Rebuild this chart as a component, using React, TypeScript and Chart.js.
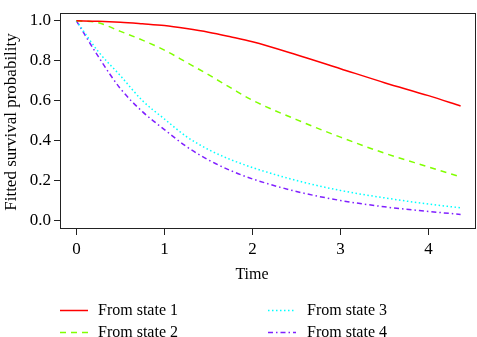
import React, { useEffect, useRef } from "react";
import { Chart, registerables } from "chart.js";

Chart.register(...registerables);

// Fitted survival probability over time, by starting state
const times = [0, 0.25, 0.5, 0.75, 1, 1.25, 1.5, 1.75, 2, 2.5, 3, 3.5, 4, 4.365];
const fromState1 = [1, 0.998, 0.993, 0.985, 0.976, 0.961, 0.943, 0.92, 0.895, 0.83, 0.76, 0.69, 0.625, 0.573];
const fromState2 = [1, 0.99, 0.947, 0.903, 0.853, 0.792, 0.73, 0.665, 0.602, 0.505, 0.417, 0.337, 0.268, 0.218];
const fromState3 = [1, 0.845, 0.725, 0.6, 0.508, 0.42, 0.355, 0.305, 0.265, 0.2, 0.15, 0.113, 0.082, 0.063];
const fromState4 = [1, 0.82, 0.66, 0.545, 0.455, 0.37, 0.303, 0.25, 0.208, 0.145, 0.1, 0.068, 0.045, 0.03];

const seriesLabels = ["From state 1", "From state 2", "From state 3", "From state 4"];
const xTicks = [0, 1, 2, 3, 4];
const yTicks = [0, 0.2, 0.4, 0.6, 0.8, 1.0];

const FONT = "'Liberation Serif', 'Times New Roman', serif";

const styles = [
  { color: "#FF0000", dash: [] as number[] },
  { color: "#80FF00", dash: [6, 5] },
  { color: "#00FFFF", dash: [1.5, 2.5] },
  { color: "#8020FF", dash: [5, 3, 1.5, 3] },
];

const toPoints = (ys: number[]) => times.map((t, i) => ({ x: t, y: ys[i] }));

const framePlugin = {
  id: "frameAndText",
  afterDraw(chart: any) {
    const { ctx, chartArea } = chart;
    const { left, top, right, bottom } = chartArea;
    ctx.save();
    // plot box
    ctx.strokeStyle = "#222";
    ctx.lineWidth = 1;
    ctx.setLineDash([]);
    ctx.strokeRect(Math.round(left) - 0.5, Math.round(top) + 0.5, Math.round(right - left), Math.round(bottom - top));

    ctx.fillStyle = "#000";
    ctx.font = `16px ${FONT}`;
    ctx.textBaseline = "alphabetic";

    // axis titles
    ctx.textAlign = "center";
    ctx.fillText("Time", 252, 279);
    ctx.save();
    ctx.translate(16, 122);
    ctx.rotate(-Math.PI / 2);
    ctx.font = `17px ${FONT}`;
    ctx.fillText("Fitted survival probability", 0, 0);
    ctx.restore();

    // legend, two columns
    const cols = [
      { lx: 60, tx: 98 },
      { lx: 268, tx: 307 },
    ];
    const rows = [310, 332];
    ctx.textAlign = "left";
    chart.data.datasets.forEach((ds: any, i: number) => {
      const col = cols[Math.floor(i / 2)];
      const y = rows[i % 2];
      ctx.beginPath();
      ctx.strokeStyle = ds.borderColor;
      ctx.lineWidth = ds.borderWidth;
      ctx.setLineDash(ds.borderDash || []);
      ctx.moveTo(col.lx, y + 0.5);
      ctx.lineTo(col.lx + 28, y + 0.5);
      ctx.stroke();
      ctx.setLineDash([]);
      ctx.fillText(ds.label, col.tx, y + 5);
    });
    ctx.restore();
  },
};

export default function App() {
  const canvasRef = useRef<HTMLCanvasElement | null>(null);

  useEffect(() => {
    document.body.style.margin = "0";
    const canvas = canvasRef.current;
    if (!canvas) return;
    const series = [fromState1, fromState2, fromState3, fromState4];
    const chart = new Chart(canvas, {
      type: "line",
      data: {
        datasets: series.map((ys, i) => ({
          label: seriesLabels[i],
          data: toPoints(ys),
          borderColor: styles[i].color,
          backgroundColor: styles[i].color,
          borderWidth: 1.5,
          borderDash: styles[i].dash,
          pointRadius: 0,
          fill: false,
          cubicInterpolationMode: "monotone" as const,
        })),
      },
      options: {
        animation: false,
        responsive: false,
        devicePixelRatio: 1,
        layout: { padding: { left: 0, top: 1, right: 1, bottom: 0 } },
        plugins: {
          legend: { display: false },
          tooltip: { enabled: false },
        },
        scales: {
          x: {
            type: "linear",
            min: -0.175,
            max: 4.54,
            afterFit: (scale: any) => {
              scale.height = 109;
            },
            afterBuildTicks: (scale: any) => {
              scale.ticks = xTicks.map((v) => ({ value: v }));
            },
            ticks: {
              font: { family: FONT, size: 17 },
              color: "#000",
              padding: 4,
              maxRotation: 0,
              callback: (v: any) => String(v),
            },
            grid: {
              drawOnChartArea: false,
              drawTicks: true,
              tickLength: 7,
              color: "#222",
              lineWidth: 1,
            },
            border: { display: false },
          },
          y: {
            type: "linear",
            min: -0.038,
            max: 1.038,
            afterFit: (scale: any) => {
              scale.width = 61;
            },
            afterBuildTicks: (scale: any) => {
              scale.ticks = yTicks.map((v) => ({ value: v }));
            },
            ticks: {
              font: { family: FONT, size: 17 },
              color: "#000",
              padding: 3,
              callback: (v: any) => Number(v).toFixed(1),
            },
            grid: {
              drawOnChartArea: false,
              drawTicks: true,
              tickLength: 7,
              color: "#222",
              lineWidth: 1,
            },
            border: { display: false },
          },
        },
      },
      plugins: [framePlugin],
    });
    return () => chart.destroy();
  }, []);

  return (
    <div style={{ width: 477, height: 337, background: "#fff" }}>
      <canvas ref={canvasRef} width={477} height={337} style={{ display: "block" }} />
    </div>
  );
}
